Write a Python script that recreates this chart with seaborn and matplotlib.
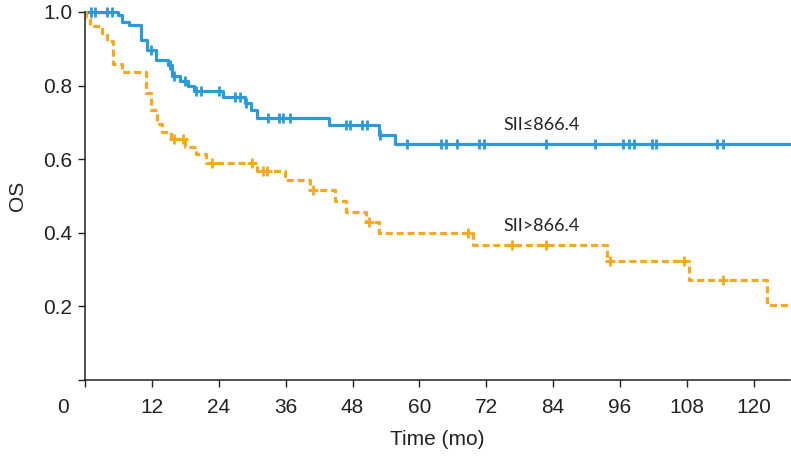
import matplotlib
matplotlib.use('Agg')
import matplotlib.pyplot as plt
import seaborn as sns
import pandas as pd
import numpy as np

sns.set_style("ticks")
plt.rcParams['font.family'] = ['Liberation Sans', 'DejaVu Sans']

# Kaplan-Meier step data (months, survival)
low_name = 'SII≤866.4'
low_time = [0, 6.0, 6.7, 7.9, 10.0, 11.2, 12.8, 14.9, 15.7, 17.1, 18.5, 19.5,
            24.8, 28.7, 29.8, 30.8, 43.8, 52.7, 55.7, 126.5]
low_surv = [1.0, 0.992, 0.974, 0.965, 0.924, 0.897, 0.870, 0.856, 0.826, 0.813, 0.799, 0.786,
            0.768, 0.752, 0.734, 0.713, 0.693, 0.666, 0.641, 0.641]
low_cens = [1.0, 1.8, 3.9, 4.8, 11.8, 15.2, 15.9, 17.9, 20.0, 20.9, 24.1, 26.9, 27.8, 28.9,
            32.8, 34.8, 35.5, 36.7, 46.9, 47.6, 49.7, 50.6, 53.0, 57.7, 63.9, 64.8, 66.7,
            70.7, 71.6, 82.7, 91.6, 96.6, 97.6, 98.5, 101.7, 102.5, 113.4, 114.4]

high_name = 'SII>866.4'
high_time = [0, 0.2, 0.9, 3.0, 3.9, 5.0, 6.7, 10.9, 11.9, 12.9, 13.9, 15.5, 17.9, 20.0, 21.8,
             30.8, 35.8, 40.4, 44.8, 46.8, 50.5, 52.7, 69.7, 93.6, 108.4, 122.4, 126.5]
high_surv = [1.0, 0.984, 0.962, 0.942, 0.920, 0.860, 0.838, 0.779, 0.735, 0.696, 0.675, 0.654,
             0.634, 0.614, 0.590, 0.569, 0.543, 0.516, 0.487, 0.457, 0.428, 0.400, 0.366,
             0.324, 0.272, 0.204, 0.204]
high_cens = [15.9, 17.6, 22.7, 29.9, 31.9, 32.6, 40.9, 51.0, 68.7, 76.6, 82.7, 94.2, 107.5, 114.4]

x_ticks = [0, 12, 24, 36, 48, 60, 72, 84, 96, 108, 120]
y_ticks = [0, 0.2, 0.4, 0.6, 0.8, 1.0]

blue = '#2b9ad6'
orange = '#f7a823'


def surv_at(times, survs, t):
    idx = np.searchsorted(times, t, side='right') - 1
    return np.asarray(survs)[idx]


curves = pd.concat([
    pd.DataFrame({'time': low_time, 'surv': low_surv, 'group': low_name}),
    pd.DataFrame({'time': high_time, 'surv': high_surv, 'group': high_name}),
])
cens = pd.concat([
    pd.DataFrame({'time': low_cens, 'surv': surv_at(low_time, low_surv, low_cens), 'group': low_name}),
    pd.DataFrame({'time': high_cens, 'surv': surv_at(high_time, high_surv, high_cens), 'group': high_name}),
])
palette = {low_name: blue, high_name: orange}

fig = plt.figure(figsize=(7.91, 4.57), dpi=100)
ax = fig.add_axes([85 / 791, 1 - 380 / 457, 705 / 791, 368 / 457])

sns.lineplot(data=curves, x='time', y='surv', hue='group', style='group', palette=palette,
             dashes={low_name: '', high_name: (2.2, 1.2)}, drawstyle='steps-post',
             estimator=None, sort=False, lw=2.3, legend=False, ax=ax, clip_on=False)

# censor marks
for name, mk in [(low_name, '|'), (high_name, '+')]:
    sub = cens[cens['group'] == name]
    ax.plot(sub['time'], sub['surv'], ls='none', marker=mk, ms=7, mew=2.0,
            color=palette[name], clip_on=False)

ax.set_xlim(0, 126.5)
ax.set_ylim(0, 1.0)
ax.set_xticks(x_ticks)
ax.set_xticklabels([''] + [str(t) for t in x_ticks[1:]])
ax.set_yticks(y_ticks)
ax.set_yticklabels([''] + [f'{t:.1f}' for t in y_ticks[1:]])
ax.tick_params(axis='x', length=5, width=1, pad=8, labelsize=15, colors='#222222')
ax.tick_params(axis='y', length=5, width=1, pad=4, labelsize=15, colors='#222222')
for s in ['left', 'bottom']:
    ax.spines[s].set_linewidth(1.1)
    ax.spines[s].set_color('#222222')
sns.despine(ax=ax)

ax.annotate('0', xy=(0, 0), xycoords=('data', 'axes fraction'), xytext=(-16, -13),
            textcoords='offset points', ha='center', va='top', fontsize=15, color='#222222')

ax.set_xlabel('Time (mo)', fontsize=15, labelpad=9, color='#222222')
ax.set_ylabel('OS', fontsize=15, labelpad=12, color='#222222')

lab_font = ['Lato', 'DejaVu Sans']
ax.text(82.0, 0.693, low_name, ha='center', va='center', fontsize=13,
        family=lab_font, color='#222222')
ax.text(82.0, 0.418, high_name, ha='center', va='center', fontsize=13,
        family=lab_font, color='#222222')

fig.savefig('out.png', dpi=100)
